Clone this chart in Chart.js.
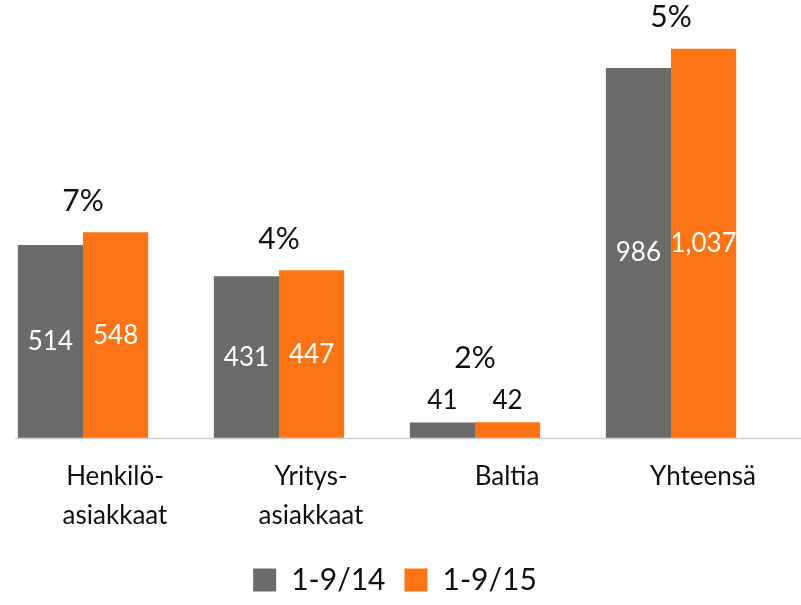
<!DOCTYPE html>
<html><head><meta charset="utf-8">
<script src="https://cdn.jsdelivr.net/npm/chart.js@4"></script>
<style>
html,body{margin:0;padding:0;background:#fff;overflow:hidden;}
#wrap{position:absolute;left:-15px;top:0;width:820px;height:605px;}
</style></head>
<body><div id="wrap"><canvas id="c"></canvas></div>
<script>
const categories = [["Henkilö-","asiakkaat"],["Yritys-","asiakkaat"],"Baltia","Yhteensä"];
const series14 = [514, 431, 41, 986];
const series15 = [548, 447, 42, 1037];
const valueLabels14 = ["514","431","41","986"];
const valueLabels15 = ["548","447","42","1,037"];
const growthLabels = ["7%","4%","2%","5%"];
const seriesNames = ["1-9/14","1-9/15"];

const FONT = "Lato, 'Open Sans', sans-serif";
const GRAY = "#6b6b6b", ORANGE = "#fd7417";

const labelPlugin = {
  id: 'labels',
  afterDatasetsDraw(chart) {
    const ctx = chart.ctx;
    const area = chart.chartArea;
    ctx.save();
    const yScale = chart.scales.y;
    const y0 = Math.round(yScale.getPixelForValue(0)) + 0.5;
    ctx.strokeStyle = "#d0d0d0"; ctx.lineWidth = 1.5;
    ctx.beginPath(); ctx.moveTo(area.left + 30, y0); ctx.lineTo(chart.width, y0); ctx.stroke();
    const texts = [valueLabels14, valueLabels15];
    ctx.textAlign = 'center'; ctx.textBaseline = 'middle';
    ctx.font = "26px " + FONT;
    const tops = [];
    chart.data.datasets.forEach((ds, di) => {
      const meta = chart.getDatasetMeta(di);
      meta.data.forEach((bar, i) => {
        const h = bar.base - bar.y;
        if (h > 50) {
          ctx.fillStyle = "#ffffff";
          ctx.fillText(texts[di][i], bar.x, (bar.y + bar.base) / 2);
          tops[i] = Math.min(tops[i] ?? Infinity, bar.y);
        } else {
          ctx.fillStyle = "#111111";
          const ly = bar.y - 22;
          ctx.fillText(texts[di][i], bar.x, ly);
          tops[i] = Math.min(tops[i] ?? Infinity, ly - 11);
        }
      });
    });
    ctx.font = "30px " + FONT;
    ctx.fillStyle = "#111111";
    const m0 = chart.getDatasetMeta(0), m1 = chart.getDatasetMeta(1);
    growthLabels.forEach((t, i) => {
      const cx = (m0.data[i].x + m1.data[i].x) / 2;
      ctx.fillText(t, cx, tops[i] - 31);
    });
    ctx.restore();
  }
};

new Chart(document.getElementById('c'), {
  type: 'bar',
  data: {
    labels: categories,
    datasets: [
      { label: seriesNames[0], data: series14, backgroundColor: GRAY },
      { label: seriesNames[1], data: series15, backgroundColor: ORANGE }
    ]
  },
  options: {
    responsive: true, maintainAspectRatio: false, animation: false,
    layout: { padding: { top: 0, left: 0, right: 0, bottom: 0 } },
    categoryPercentage: 0.665, barPercentage: 1.0,
    plugins: {
      legend: {
        position: 'bottom',
        labels: { boxWidth: 23, boxHeight: 23, padding: 19, color: '#111', font: { family: FONT, size: 30 } }
      },
      tooltip: { enabled: false }
    },
    scales: {
      x: {
        grid: { display: false }, border: { display: false },
        ticks: { color: '#111', font: { family: FONT, size: 26, lineHeight: 1.5 }, labelOffset: 32, padding: 11, maxRotation: 0, autoSkip: false }
      },
      y: {
        display: true, position: 'right', min: 0, max: 1167,
        grid: { display: false }, border: { display: false },
        ticks: { display: false },
        afterFit(s) { s.width = 36; }
      }
    }
  },
  plugins: [labelPlugin]
});
</script></body></html>
